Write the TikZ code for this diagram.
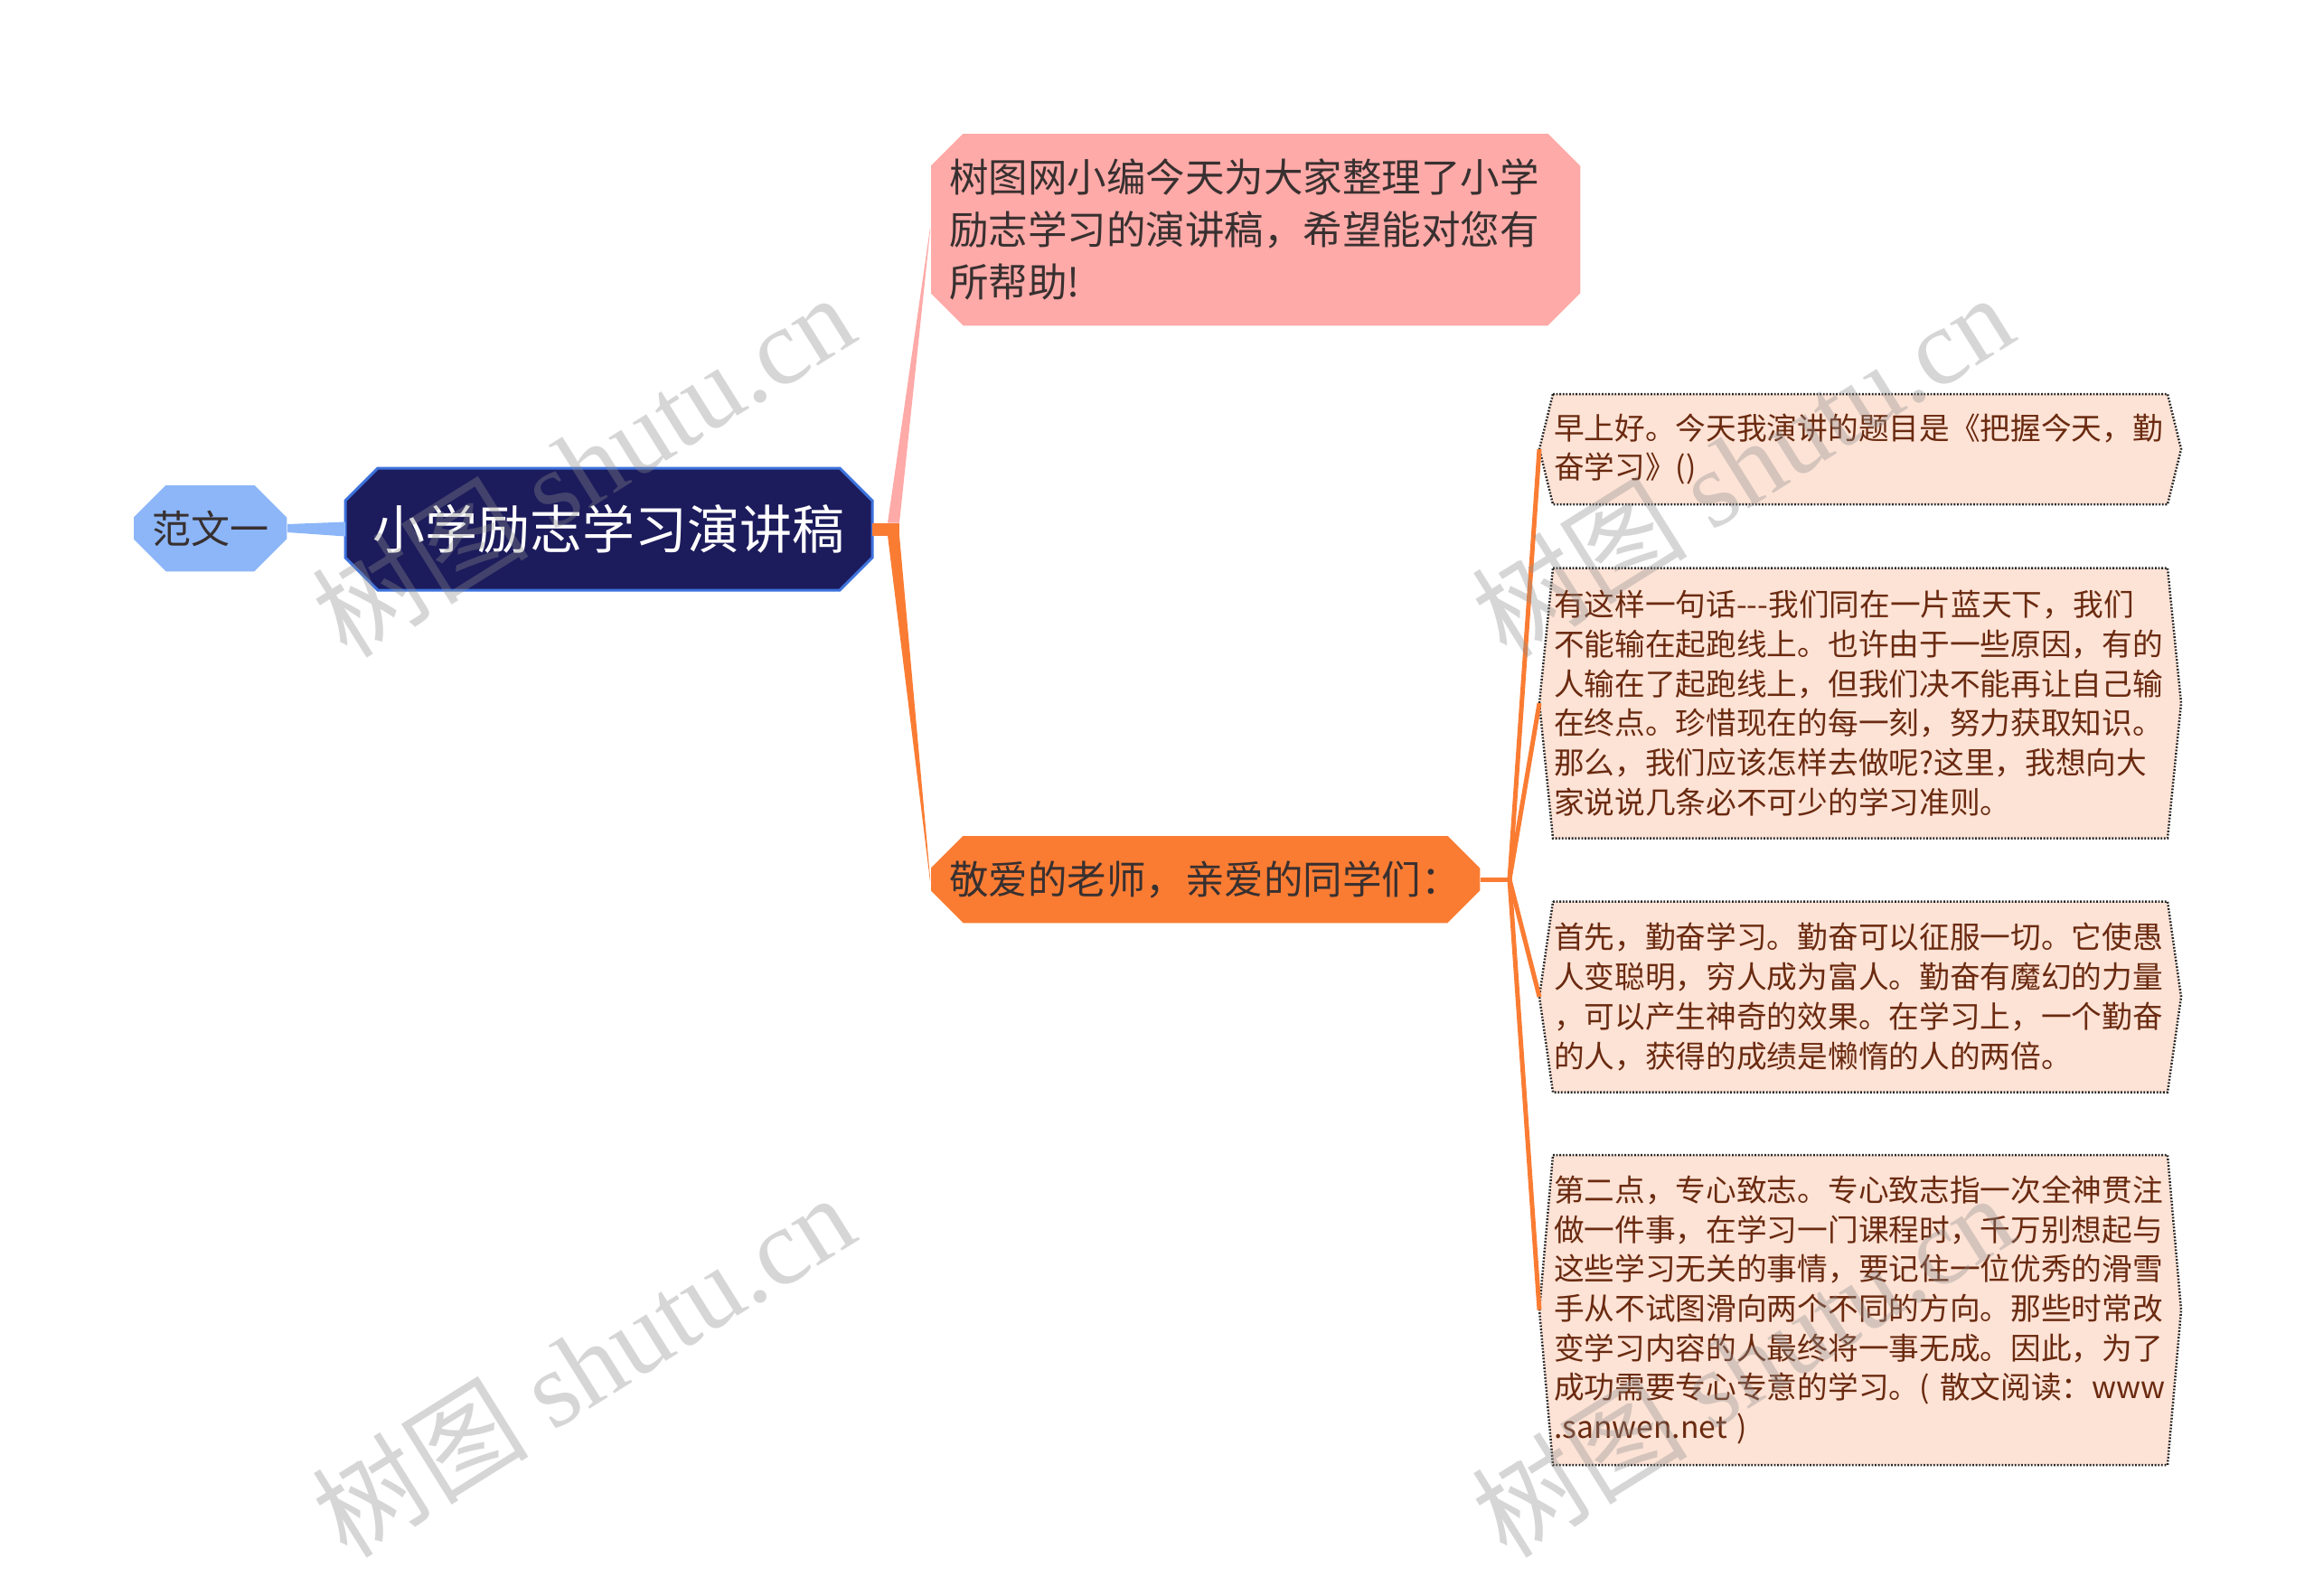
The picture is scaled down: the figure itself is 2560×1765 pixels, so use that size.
\documentclass[tikz,border=0pt]{standalone}
\usepackage{fontspec}
\setmainfont{Noto Sans CJK SC}
\newfontfamily\wmserif{Liberation Serif}
\usetikzlibrary{shapes.misc,calc,backgrounds}
\definecolor{rootfill}{HTML}{1C1B5C}
\definecolor{rootline}{HTML}{3D72DC}
\definecolor{bluefill}{HTML}{8CB6F8}
\definecolor{pinkfill}{HTML}{FEAAA8}
\definecolor{orangefill}{HTML}{FA7C33}
\definecolor{leaffill}{HTML}{FDE3D6}
\definecolor{leaftext}{HTML}{6A2A10}
\definecolor{darktext}{HTML}{383030}
\begin{document}
\begin{tikzpicture}[x=1pt,y=1pt,
  chbox/.style={chamfered rectangle, chamfered rectangle xsep=18pt, chamfered rectangle ysep=18pt, outer sep=0pt},
  bluebox/.style={chbox, fill=bluefill, draw=white, line width=1.5pt, minimum width=171pt, minimum height=97pt, inner sep=0pt,
    text=darktext, font=\fontsize{43}{52}\selectfont},
  rootbox/.style={chbox, fill=rootfill, draw=rootline, line width=3pt, minimum width=583pt, minimum height=135pt, inner sep=0pt,
    text=white, font=\fontsize{58}{70}\selectfont},
  pinkbox/.style={chbox, fill=pinkfill, draw=white, line width=1.5pt, minimum height=214pt,
    inner xsep=3pt, inner ysep=0pt, text width=678pt, align=left, text=darktext, font=\fontsize{43.5}{58}\selectfont},
  orangebox/.style={chbox, fill=orangefill, draw=white, line width=1.5pt, minimum height=98pt,
    inner xsep=3pt, inner ysep=0pt, text width=567pt, align=left, text=darktext, font=\fontsize{43.5}{58}\selectfont},
  leafbox/.style={rectangle, draw=none, outer sep=0pt, inner xsep=16pt, inner ysep=0pt, text width=678pt, align=left,
    text=leaftext, font=\fontsize{33.7}{43.7}\selectfont},
  leafshape/.style={fill=leaffill, draw=black!85, line width=2.5pt, dash pattern=on 1.8pt off 1.8pt},
  leafconn/.style={draw=orangefill, line width=5pt},
  wmark/.style={rotate=32, text=black!45, text opacity=0.35, font=\fontsize{120}{120}\selectfont, inner sep=0pt}
]
\useasboundingbox (0,0) rectangle (2560,-1765);

% nodes
\node[bluebox] (fan) at (232.5,-584.5) {范文一};
\node[rootbox] (root) at (673.5,-585.5) {小学励志学习演讲稿};
\node[pinkbox] (pink) at (1389,-254) {树图网小编今天为大家整理了小学\\励志学习的演讲稿，希望能对您有\\所帮助!};
\node[orangebox] (ora) at (1333.5,-973) {敬爱的老师，亲爱的同学们：};

\node[leafbox, minimum height=122pt] (l1) at (2058,-497) {早上好。今天我演讲的题目是《把握今天，勤\\奋学习》()};
\node[leafbox, minimum height=299pt] (l2) at (2058,-778) {有这样一句话-{}-{}-我们同在一片蓝天下，我们\\不能输在起跑线上。也许由于一些原因，有的\\人输在了起跑线上，但我们决不能再让自己输\\在终点。珍惜现在的每一刻，努力获取知识。\\那么，我们应该怎样去做呢?这里，我想向大\\家说说几条必不可少的学习准则。};
\node[leafbox, minimum height=211pt] (l3) at (2058,-1103) {首先，勤奋学习。勤奋可以征服一切。它使愚\\人变聪明，穷人成为富人。勤奋有魔幻的力量\\，可以产生神奇的效果。在学习上，一个勤奋\\的人，获得的成绩是懒惰的人的两倍。};
\node[leafbox, minimum height=343pt] (l4) at (2058,-1449.5) {第二点，专心致志。专心致志指一次全神贯注\\做一件事，在学习一门课程时，千万别想起与\\这些学习无关的事情，要记住一位优秀的滑雪\\手从不试图滑向两个不同的方向。那些时常改\\变学习内容的人最终将一事无成。因此，为了\\成功需要专心专意的学习。( 散文阅读：www\\.sanwen.net )};

% page background and leaf outlines
\begin{scope}[on background layer]
\fill[white] (0,0) rectangle (2560,-1765);
\foreach \n in {l1,l2,l3,l4}
  \draw[leafshape] ([xshift=15pt]\n.north west) -- ([xshift=-15pt]\n.north east) -- (\n.east)
    -- ([xshift=-15pt]\n.south east) -- ([xshift=15pt]\n.south west) -- (\n.west) -- cycle;
\end{scope}

% connectors
\fill[bluefill] ($(fan.east)+(0,4.5)$) -- ($(root.west)+(0,8)$) -- ($(root.west)+(0,-8)$) -- ($(fan.east)+(0,-4.5)$) -- cycle;
\coordinate (j) at ($(root.east)+(30,0)$);
\fill[pinkfill] ($(j)+(-13,7)$) -- ($(pink.west)+(0,2)$) -- ($(pink.west)+(0,-2)$) -- ($(j)+(0,7)$) -- cycle;
\fill[orangefill] ($(j)+(-13,-7)$) -- ($(ora.west)+(0,-2)$) -- ($(ora.west)+(0,2)$) -- ($(j)+(0,-7)$) -- cycle;
\fill[orangefill] ($(root.east)+(0,7)$) rectangle ($(j)+(0,-7)$);

\coordinate (k) at ($(ora.east)+(32,0)$);
\draw[leafconn] (ora.east) -- (k);
\foreach \n in {l1,l2,l3,l4}
  \draw[leafconn] (k) -- (\n.west);

% watermarks
\node[wmark] (wm1) at (645,-514) {树图 {\wmserif shutu.cn}};
\node[wmark] (wm2) at (1927,-514) {树图 {\wmserif shutu.cn}};
\node[wmark] (wm3) at (645,-1510) {树图 {\wmserif shutu.cn}};
\node[wmark] (wm4) at (1927,-1510) {树图 {\wmserif shutu.cn}};
\end{tikzpicture}
\end{document}
